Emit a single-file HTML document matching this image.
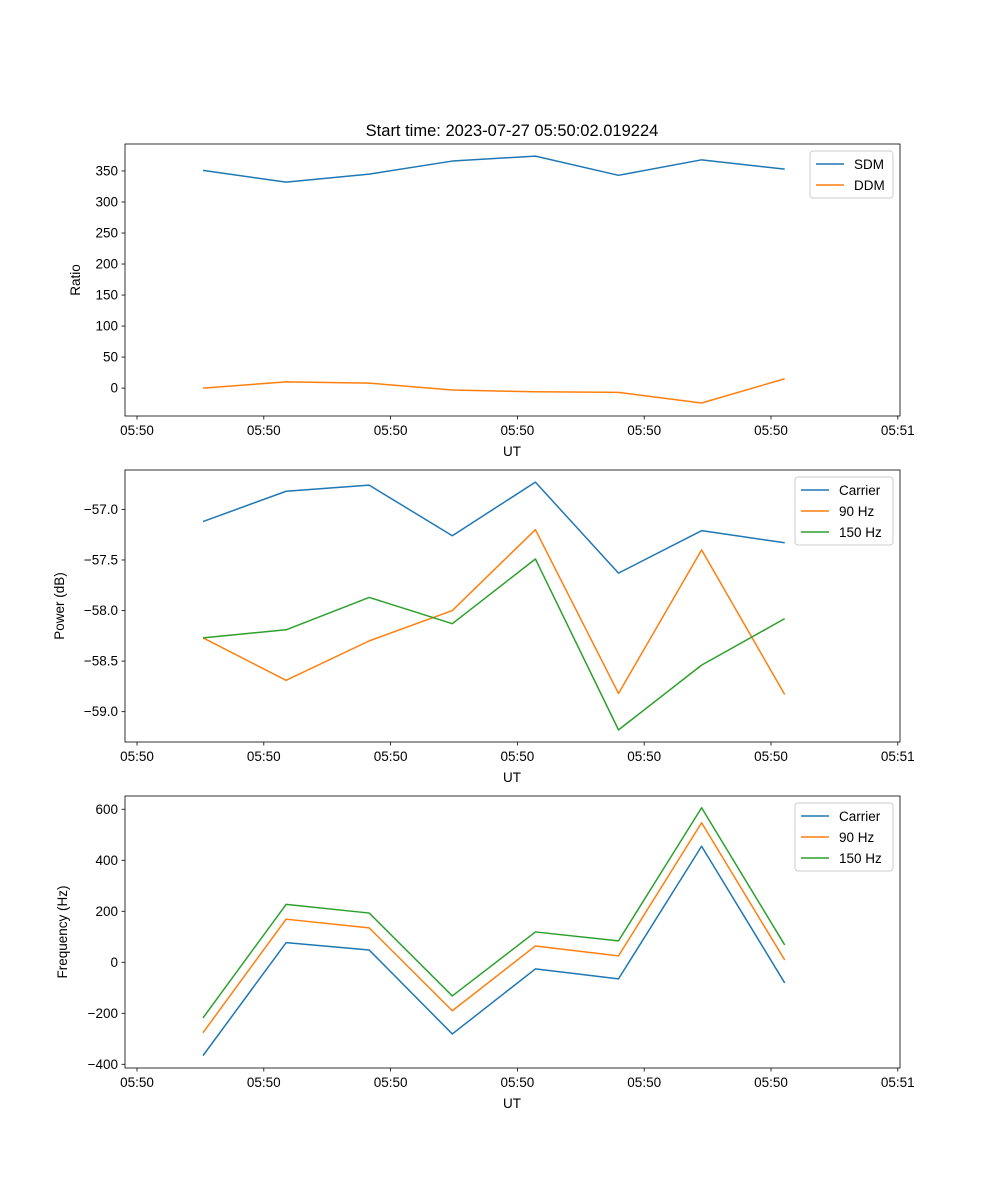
<!DOCTYPE html>
<html><head><meta charset="utf-8">
<style>
body{margin:0;background:#fff;}
svg{display:block;font-family:"Liberation Sans","DejaVu Sans",sans-serif;}
</style></head>
<body>
<svg id="fig" width="1000" height="1200" viewBox="0 0 1000 1200"></svg>
<script>
const xTickLabels = ["05:50","05:50","05:50","05:50","05:50","05:50","05:51"];
const sdm = [351,332,345,366,374,343,368,353];
const ddm = [0,10,8,-3,-6,-7,-24,15];
const pCarrier = [-57.12,-56.82,-56.76,-57.26,-56.73,-57.63,-57.21,-57.33];
const p90 = [-58.27,-58.69,-58.30,-58.00,-57.20,-58.82,-57.40,-58.83];
const p150 = [-58.27,-58.19,-57.87,-58.13,-57.49,-59.18,-58.54,-58.08];
const fCarrier = [-366,77,48,-281,-26,-65,455,-81];
const f90 = [-276,169,135,-190,64,25,547,9];
const f150 = [-218,227,193,-132,119,84,606,68];
const ratioTicks = [0,50,100,150,200,250,300,350];
const powerTicks = [-59.0,-58.5,-58.0,-57.5,-57.0];
const freqTicks = [-400,-200,0,200,400,600];

const NS="http://www.w3.org/2000/svg";
const svg=document.getElementById('fig');
const C=["#1f77b4","#ff7f0e","#2ca02c"];
function el(tag,attrs,parent){const e=document.createElementNS(NS,tag);for(const k in attrs)e.setAttribute(k,attrs[k]);(parent||svg).appendChild(e);return e;}
const L=125,R=900;
const xScale=i=>203+83.1*i;
const xTickPos=k=>137+126.8*k;

function panel(name,top,bot,yMin,yMax,ticks,fmt,ylabel,series,labels,legendW,ylabelX){
  const g=el('g',{});
  
  
  const y=v=>bot-(v-yMin)/(yMax-yMin)*(bot-top);
  series.forEach((s,si)=>{
    const p=el('polyline',{points:s.map((v,i)=>xScale(i)+','+y(v)).join(' '),fill:'none',stroke:C[si],'stroke-width':1.5,'stroke-linejoin':'round'},g);
    
    
  });
  const fr=el('rect',{x:L,y:top,width:R-L,height:bot-top,fill:'none',stroke:'#000','stroke-width':0.8},g);
  
  
  ticks.forEach(t=>{
    const yy=y(t);
    el('line',{x1:L-3.5,x2:L,y1:yy,y2:yy,stroke:'#000','stroke-width':0.8},g);
    const tx=el('text',{x:L-7,y:yy+4.5,'text-anchor':'end','font-size':13.5,fill:'#000'},g);
    tx.textContent=fmt(t);
    
    
  });
  xTickLabels.forEach((lab,k)=>{
    const xx=xTickPos(k);
    el('line',{x1:xx,x2:xx,y1:bot,y2:bot+3.5,stroke:'#000','stroke-width':0.8},g);
    const tx=el('text',{x:xx,y:bot+19,'text-anchor':'middle','font-size':13.5,fill:'#000'},g);
    tx.textContent=lab;
    
    
  });
  const xl=el('text',{x:512,y:bot+40,'text-anchor':'middle','font-size':13.5},g);
  xl.textContent='UT';
  
  
  const yc=(top+bot)/2;
  const yl=el('text',{x:ylabelX,y:yc,'text-anchor':'middle','font-size':13.5,transform:`rotate(-90 ${ylabelX} ${yc})`},g);
  yl.textContent=ylabel;
  
  
  const lg=el('g',{},g);
  
  
  const lx=R-7-legendW, ly=top+7;
  el('rect',{x:lx,y:ly,width:legendW,height:labels.length*21+5,rx:3,fill:'#fff','fill-opacity':0.8,stroke:'#ccc'},lg);
  labels.forEach((lab,i)=>{
    const yy=ly+13+i*21;
    el('line',{x1:lx+6,x2:lx+34,y1:yy,y2:yy,stroke:C[i],'stroke-width':1.5},lg);
    const t=el('text',{x:lx+44,y:yy+5,'font-size':13.5},lg);
    t.textContent=lab;
    
    
  });
}
const minus=s=>String(s).replace('-','\u2212');
panel('ratio-panel',144,416,-45,393.5,ratioTicks,t=>minus(t),'Ratio',[sdm,ddm],['SDM','DDM'],83,80);
panel('power-panel',470,742,-59.30,-56.61,powerTicks,t=>minus(t.toFixed(1)),'Power (dB)',[pCarrier,p90,p150],['Carrier','90 Hz','150 Hz'],98,64);
panel('frequency-panel',796,1068,-414.5,652,freqTicks,t=>minus(t),'Frequency (Hz)',[fCarrier,f90,f150],['Carrier','90 Hz','150 Hz'],98,67);
const title=el('text',{x:512,y:136,'text-anchor':'middle','font-size':16.5});
title.textContent='Start time: 2023-07-27 05:50:02.019224';


</script>
</body></html>
